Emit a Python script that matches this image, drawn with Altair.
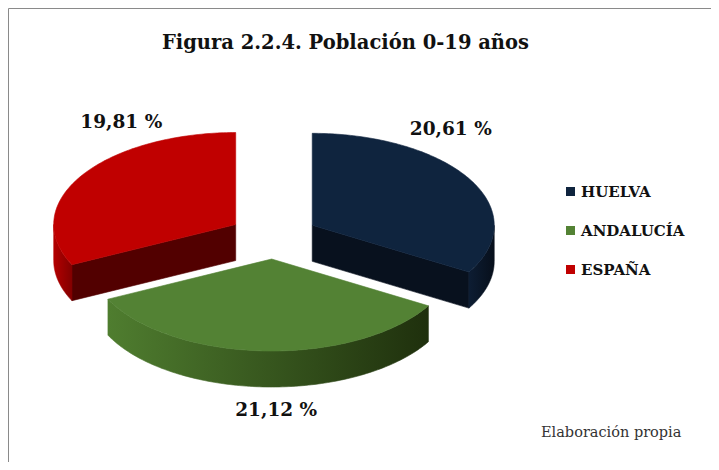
import altair as alt
import numpy as np
import pandas as pd

# ---- data ----
names = ["HUELVA", "ANDALUCÍA", "ESPAÑA"]
values = [20.61, 21.12, 19.81]
value_labels = ["20,61 %", "21,12 %", "19,81 %"]
title_text = "Figura 2.2.4. Población 0-19 años"
source_text = "Elaboración propia"

# ---- styles ----
top_colors = ["#0f243e", "#538234", "#c00000"]
face_colors = ["#08111e", "#2a4214", "#520000"]
wall_colors = [("#0d1d33", "#070f1b"), ("#4f7d2f", "#1f300d"), ("#b40000", "#820000")]
SERIF = "DejaVu Serif"

# ---- layout (chart coordinates) ----
W, H = 703, 454
CX, CY = 265.5, 228.5      # pie centre
RX, RY = 182.0, 92.0       # ellipse radii of the tilted pie
EXPLODE = 0.245            # explosion, fraction of radius
DEPTH = 36.0               # thickness of the 3-D pie
N = 120                    # points per arc
LCX, LCY = 276.0, 214.0    # label ellipse centre
LRX, LRY = 192.0, 188.0    # label ellipse radii

total = sum(values)
bounds = np.concatenate([[0.0], np.cumsum(values)]) / total * 360.0


def rim(cx, cy, t, dz=0.0):
    r = np.radians(t)
    return cx + RX * np.sin(r), cy - RY * np.cos(r) + dz


rows = []
draw_list = []  # (poly id, fill, stroke)


def add_poly(pid, pts, fill, stroke):
    for i, (x, y) in enumerate(pts):
        rows.append({"poly": pid, "i": i, "px": float(x), "py": float(y)})
    draw_list.append((pid, fill, stroke))


def grad(c1, c2):
    return alt.LinearGradient(
        gradient="linear",
        stops=[alt.GradientStop(color=c1, offset=0), alt.GradientStop(color=c2, offset=1)],
        x1=0, x2=1, y1=0, y2=0,
    )


label_rows = []
# back slices first, front slice last
order = sorted(range(len(values)),
               key=lambda k: -np.cos(np.radians((bounds[k] + bounds[k + 1]) / 2)))
for k in order:
    a, b = bounds[k], bounds[k + 1]
    m = (a + b) / 2
    cx = CX + EXPLODE * RX * np.sin(np.radians(m))
    cy = CY - EXPLODE * RY * np.cos(np.radians(m))
    # radial faces that face the viewer
    if np.sin(np.radians(a)) < -1e-6:
        add_poly(f"s{k}", [(cx, cy), rim(cx, cy, a), rim(cx, cy, a, DEPTH), (cx, cy + DEPTH)],
                 face_colors[k], face_colors[k])
    if np.sin(np.radians(b)) > 1e-6:
        add_poly(f"e{k}", [(cx, cy), rim(cx, cy, b), rim(cx, cy, b, DEPTH), (cx, cy + DEPTH)],
                 face_colors[k], face_colors[k])
    # visible outer wall
    lo, hi = max(a, 90.0), min(b, 270.0)
    if hi > lo:
        ts = np.linspace(lo, hi, N)
        pts = [rim(cx, cy, t) for t in ts] + [rim(cx, cy, t, DEPTH) for t in ts[::-1]]
        g = grad(*wall_colors[k])
        add_poly(f"w{k}", pts, g, g)
    # top face
    ts = np.linspace(a, b, N)
    add_poly(f"t{k}", [(cx, cy)] + [rim(cx, cy, t) for t in ts], top_colors[k], top_colors[k])
    label_rows.append({
        "lab": value_labels[k],
        "lx": LCX + LRX * np.sin(np.radians(m)),
        "ly": LCY - LRY * np.cos(np.radians(m)),
    })

poly_df = pd.DataFrame(rows)
label_df = pd.DataFrame(label_rows)

xs = alt.Scale(domain=[0, W], range=[0, W], nice=False, zero=False)
ys = alt.Scale(domain=[0, H], range=[0, H], nice=False, zero=False)

layers = []
for pid, fill, stroke in draw_list:
    layers.append(
        alt.Chart(poly_df)
        .transform_filter(alt.datum.poly == pid)
        .mark_line(interpolate="linear-closed", fill=fill, stroke=stroke, strokeWidth=0.6)
        .encode(
            x=alt.X("px:Q", scale=xs, axis=None),
            y=alt.Y("py:Q", scale=ys, axis=None),
            order=alt.Order("i:Q"),
        )
    )

labels = (
    alt.Chart(label_df)
    .mark_text(font=SERIF, fontWeight="bold", fontSize=18.5, color="#111111",
               align="center", baseline="middle")
    .encode(x=alt.X("lx:Q", scale=xs, axis=None),
            y=alt.Y("ly:Q", scale=ys, axis=None),
            text="lab:N")
)

legend_df = pd.DataFrame({"name": names})
legend_layer = (
    alt.Chart(legend_df)
    .transform_filter("false")
    .mark_square(size=81, opacity=1)
    .encode(
        color=alt.Color(
            "name:N",
            scale=alt.Scale(domain=names, range=top_colors),
            legend=alt.Legend(
                title=None, orient="none", legendX=555, legendY=176,
                symbolType="square", symbolSize=81, symbolStrokeWidth=0, symbolOpacity=1,
                labelFont=SERIF, labelFontWeight="bold", labelFontSize=15,
                labelColor="#111111", rowPadding=23, labelOffset=3, padding=0,
            ),
        )
    )
)

title = (
    alt.Chart(pd.DataFrame({"t": [title_text]}))
    .mark_text(font=SERIF, fontWeight="bold", fontSize=19.5, color="#111111",
               align="center", baseline="alphabetic")
    .encode(x=alt.value(337.5), y=alt.value(41), text="t:N")
)

source = (
    alt.Chart(pd.DataFrame({"t": [source_text]}))
    .mark_text(font=SERIF, fontSize=14.5, color="#333333", align="left", baseline="alphabetic")
    .encode(x=alt.value(533), y=alt.value(429), text="t:N")
)

chart = (
    alt.layer(*layers, labels, legend_layer, title, source)
    .properties(width=W, height=H, autosize=alt.AutoSizeParams(type="none"), padding=0)
    .configure_view(stroke="#8a8a8a", strokeWidth=1)
)

chart.save("out.html", embed_options={"renderer": "svg", "actions": False})
